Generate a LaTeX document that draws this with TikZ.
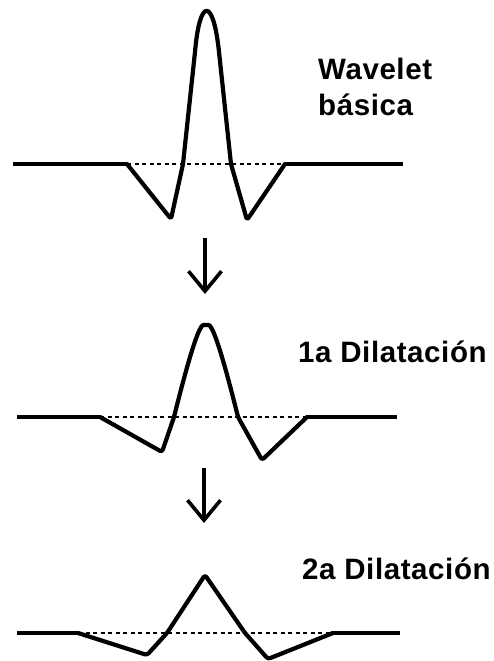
\documentclass[tikz,border=0pt]{standalone}
\usepackage{fontspec}
\setmainfont{Liberation Sans}
\usetikzlibrary{arrows.meta}
\begin{document}
\begin{tikzpicture}[x=1pt,y=-1pt,
  wave/.style={line width=4.2pt,line join=round,line cap=round,rounded corners=2.5pt},
  base/.style={line width=3.8pt},
  zero/.style={line width=1.8pt,dash pattern=on 4pt off 3.5pt},
  lbl/.style={anchor=base west,inner sep=0pt,font=\fontsize{29.5}{30}\selectfont\bfseries\addfontfeature{LetterSpace=2}},
  down/.style={line width=3.6pt,-{Straight Barb[length=20pt,width=33pt]}}]
\useasboundingbox (0,0) rectangle (493,661);
% wavelet 1
\draw[base] (13,164) -- (127,164);
\draw[base] (285,164) -- (403,164);
\draw[zero] (127,164) -- (285,164);
\draw[wave] (127,164) -- (171,219) -- (183,164) -- (195,52)
  .. controls (200,-2) and (213,-2) .. (219,52) -- (231,164) -- (247,220) -- (285,164);
\node[lbl] (t1a) at (318,79) {Wavelet};
\node[lbl] (t1b) at (318,115) {básica};
% arrow 1
\coordinate (a1s) at (205,238);
\coordinate (a1e) at (205,294);
\draw[down] (a1s) -- (a1e);
% wavelet 2
\draw[base] (17,417) -- (100,417);
\draw[base] (307,417) -- (397,417);
\draw[zero] (100,417) -- (307,417);
\draw[wave] (100,417) -- (162,452) -- (174,417)
  .. controls (185,373) and (198,325) .. (206,325)
  .. controls (214,325) and (227,373) .. (238,417) -- (262,460) -- (307,417);
\node[lbl] (t2) at (298,362) {1a Dilatación};
% arrow 2
\coordinate (a2s) at (204,468);
\coordinate (a2e) at (204,523);
\draw[down] (a2s) -- (a2e);
% wavelet 3
\draw[base] (17,633) -- (78,633);
\draw[base] (333,633) -- (400,633);
\draw[zero] (78,633) -- (333,633);
\draw[wave] (78,633) -- (147,655) -- (167,633) -- (205,575) -- (245,633) -- (268,659) -- (333,633);
\node[lbl] (t3) at (302,579) {2a Dilatación};
\end{tikzpicture}
\end{document}
